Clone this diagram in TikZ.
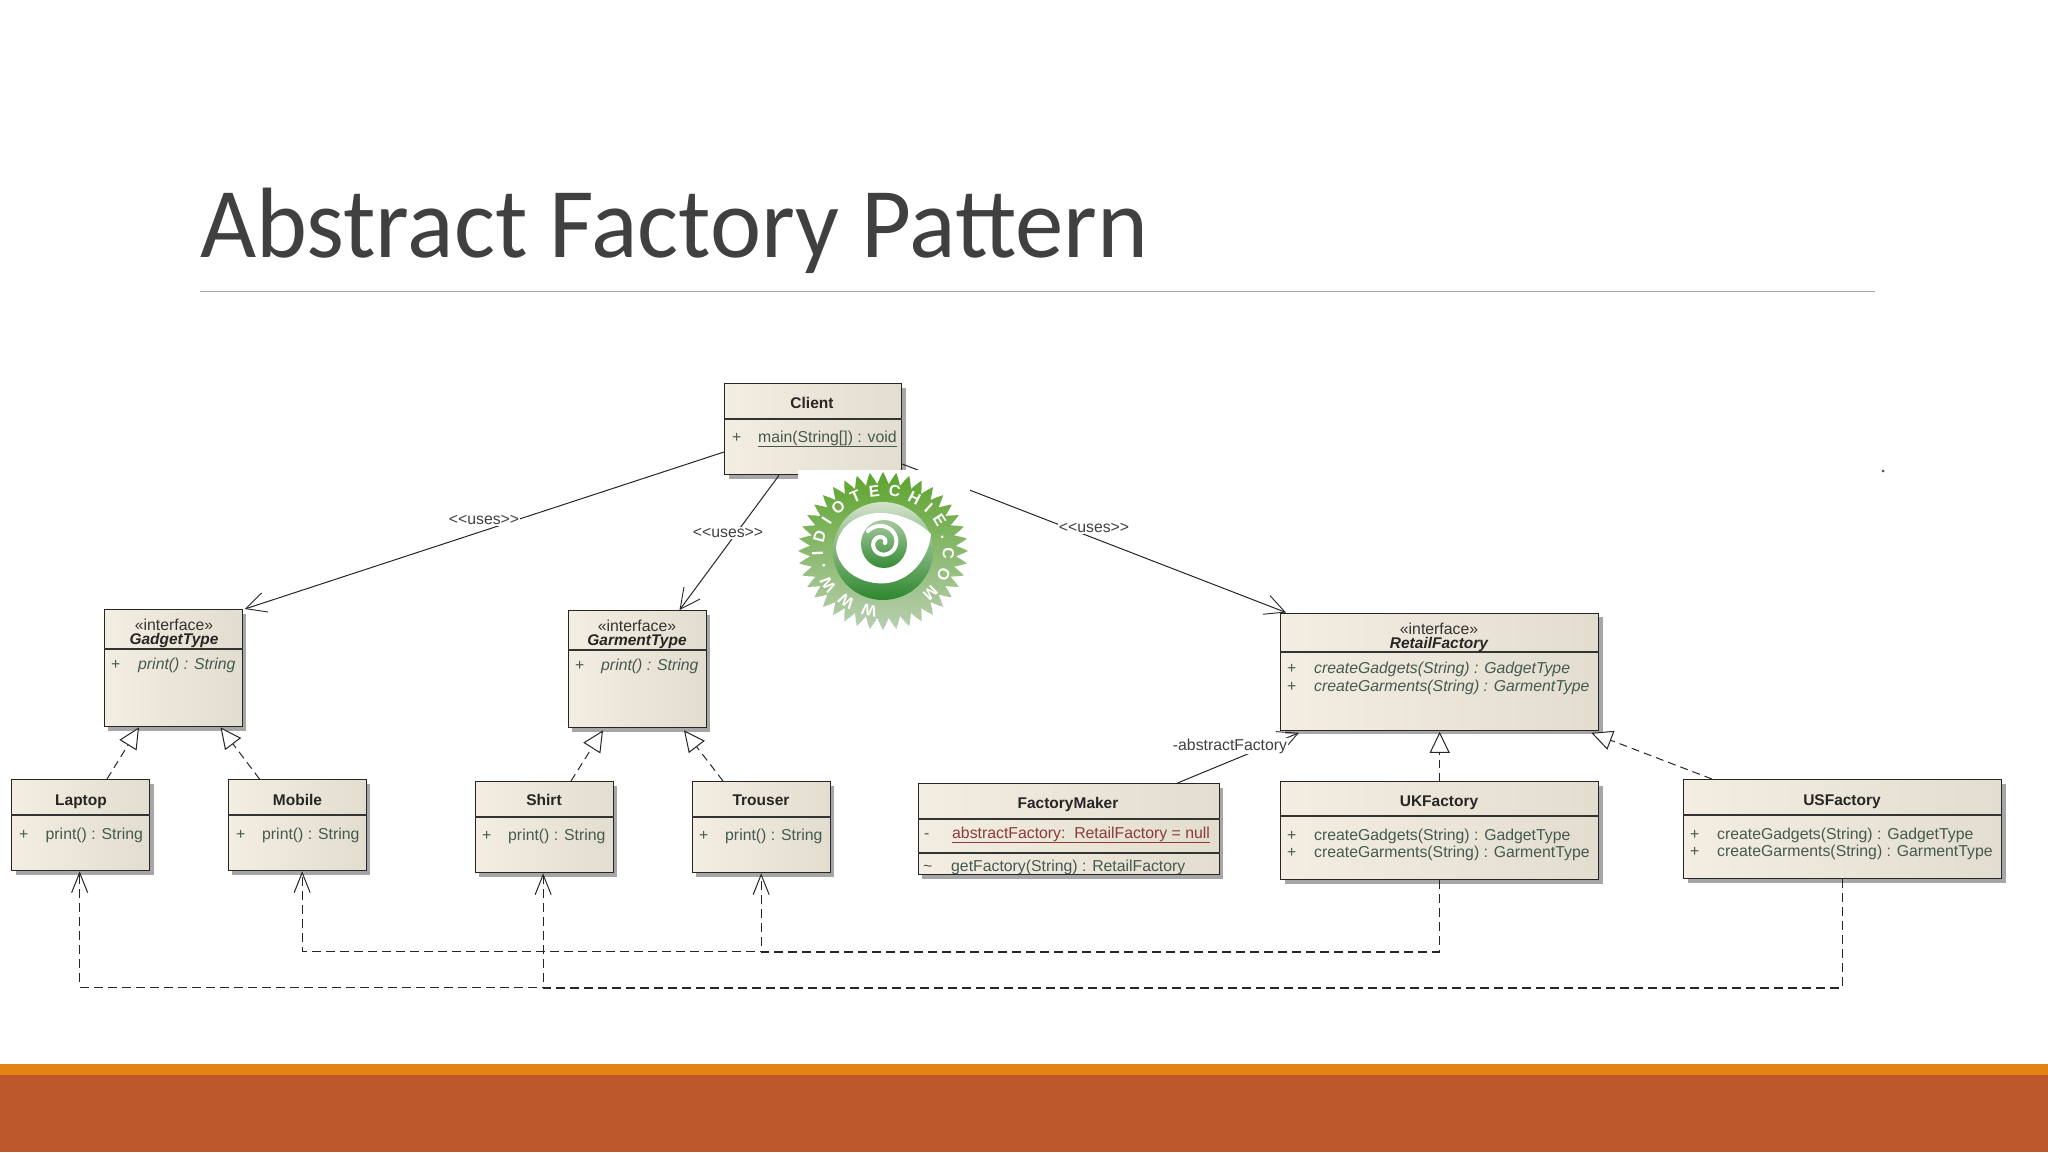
\documentclass[tikz,border=0pt]{standalone}
\usepackage{fontspec}
\setmainfont{Liberation Sans}
\newfontfamily\titlefont{Carlito}
\usetikzlibrary{arrows.meta,shadows,decorations.text}
\definecolor{boxa}{HTML}{F4EEE2}
\definecolor{boxb}{HTML}{E2DDCF}
\definecolor{methodc}{HTML}{44594F}
\definecolor{redc}{HTML}{8A3B3B}
\definecolor{titlec}{HTML}{404040}
\definecolor{rust}{HTML}{BD582C}
\definecolor{amber}{HTML}{E48312}
\definecolor{sealtop}{HTML}{5CA42C}
\definecolor{sealbot}{HTML}{B9CFB2}
\definecolor{disctop}{HTML}{D3E2CB}
\definecolor{discbot}{HTML}{2C872C}
\definecolor{swirltop}{HTML}{A9C9A1}
\definecolor{swirlbot}{HTML}{348C34}
\tikzset{
  umlbox/.style={draw=black!85,line width=1.3pt,rectangle,inner sep=0pt,anchor=north west,
    left color=boxa,right color=boxb,
    drop shadow={shadow xshift=4pt,shadow yshift=-4pt,fill=black!35,opacity=1}},
  sepline/.style={draw=black!80,line width=1.1pt},
  txt/.style={font=\fontsize{15.8}{15.8}\selectfont,inner sep=0pt,text=methodc},
  mem/.style={txt,anchor=base west},
  imem/.style={mem,font=\fontsize{15.8}{15.8}\selectfont\itshape},
  cname/.style={txt,anchor=base,font=\fontsize{15.5}{15.5}\selectfont\bfseries,text=black!85},
  iname/.style={cname,font=\fontsize{15.5}{15.5}\selectfont\bfseries\itshape},
  ster/.style={txt,anchor=base,text=black!80},
  lab/.style={txt,fill=white,inner sep=1pt,text=black!75},
  assoc/.style={draw=black!85,line width=1pt,-{Straight Barb[length=20pt,width=20pt,line width=.9pt]}},
  realize/.style={draw=black!85,line width=1pt,dash pattern=on 8pt off 5pt,
    -{Triangle[open,fill=white,length=21pt,width=20pt,line width=1pt]}},
  dep/.style={draw=black!85,line width=1.2pt,dash pattern=on 9pt off 5pt,
    -{Straight Barb[length=20pt,width=16pt,line width=1pt]}},
}
\begin{document}
\begin{tikzpicture}[x=1pt,y=-1pt]
\useasboundingbox (0,0) rectangle (2048,1152);
\fill[white] (0,0) rectangle (2048,1152);
% title
\node[anchor=base west,inner sep=0pt,text=titlec,xscale=.969,font=\titlefont\fontsize{100}{100}\selectfont] (title) at (200,257) {Abstract Factory Pattern};
\coordinate (ruleL) at (200,291.5);
\coordinate (ruleR) at (1875,291.5);
\draw[draw=black!35,line width=1.5pt] (ruleL) -- (ruleR);
% bottom bands
\fill[amber] (0,1064) rectangle (2048,1075);
\fill[rust] (0,1075) rectangle (2048,1152);

% boxes
\node[umlbox,minimum width=177pt,minimum height=91pt] (client) at (724,383) {};
\node[umlbox,minimum width=138pt,minimum height=117pt] (gadget) at (103.5,609) {};
\node[umlbox,minimum width=138pt,minimum height=117pt] (garment) at (567.5,610) {};
\node[umlbox,minimum width=318pt,minimum height=117pt] (retail) at (1280,612.5) {};
\node[umlbox,minimum width=138pt,minimum height=91pt] (laptop) at (11,779) {};
\node[umlbox,minimum width=138pt,minimum height=91pt] (mobile) at (227.5,779) {};
\node[umlbox,minimum width=138pt,minimum height=91pt] (shirt) at (474.5,781) {};
\node[umlbox,minimum width=138pt,minimum height=91pt] (trouser) at (691.5,781) {};
\node[umlbox,minimum width=301pt,minimum height=91pt] (maker) at (917.5,783) {};
\node[umlbox,minimum width=318pt,minimum height=98pt] (uk) at (1280,781) {};
\node[umlbox,minimum width=318pt,minimum height=99pt] (us) at (1683,779) {};
% compartments
\foreach \b/\o in {client/36,gadget/40,garment/40,retail/39.5,laptop/36,mobile/36,shirt/36,trouser/36,maker/36,uk/35,us/36}
  \draw[sepline] ([yshift=-\o pt]\b.north west) -- ([yshift=-\o pt]\b.north east);
\draw[sepline] ([yshift=-70pt]maker.north west) -- ([yshift=-70pt]maker.north east);

% connectors
\draw[assoc] ([yshift=-69pt]client.north west) -- ([xshift=2pt]gadget.north east);
\draw[assoc] ([xshift=55pt]client.south west) -- ([xshift=112pt]garment.north west);
\draw[assoc] ([yshift=-81pt]client.north east) -- ([xshift=6pt]retail.north west);
\draw[assoc] ([xshift=260pt]maker.north west) -- ([xshift=19pt,yshift=-2pt]retail.south west);
\draw[realize] ([xshift=96pt]laptop.north west) -- ([xshift=35.5pt]gadget.south west);
\draw[realize] ([xshift=32pt]mobile.north west) -- ([xshift=117pt]gadget.south west);
\draw[realize] ([xshift=96.5pt]shirt.north west) -- ([xshift=35.5pt,yshift=-2pt]garment.south west);
\draw[realize] ([xshift=31.5pt]trouser.north west) -- ([xshift=116.5pt,yshift=-2pt]garment.south west);
\draw[realize] (uk.north) -- ([yshift=-1pt]retail.south);
\draw[realize] ([xshift=29pt]us.north west) -- ([xshift=-8pt,yshift=-2pt]retail.south east);
\draw[dep] (uk.south) -- ++(0,71) -| ([xshift=5pt]mobile.south);
\draw[dep] (uk.south) -- ++(0,71.8) -| (trouser.south);
\draw[dep] (us.south) -- ++(0,108) -| ([xshift=-1pt]laptop.south);
\draw[dep] (us.south) -- ++(0,108.8) -| ([xshift=-1pt]shirt.south);

% connector labels
\node[lab] (uses1) at (484,520) {<{}<uses>{}>};
\node[lab] (uses2) at (728,533) {<{}<uses>{}>};
\node[lab] (uses3) at (1094,528) {<{}<uses>{}>};
\node[lab] (absf) at (1230,746) {-abstractFactory};

% class texts
\node[cname] (t1) at (812,408) {Client};
\node[mem] (t2) at (732,442) {+};
\node[mem] (t3) at (758,442) {\underline{main(String[]) : void}};

\node[ster] (t4) at (174,630) {«interface»};
\node[iname] (t5) at (174,644.5) {GadgetType};
\node[mem] (t6) at (111,669) {+};
\node[imem] (t7) at (138,669) {print() : String};

\node[ster] (t8) at (637,631) {«interface»};
\node[iname] (t9) at (637,645.5) {GarmentType};
\node[mem] (t10) at (575,670) {+};
\node[imem] (t11) at (601,670) {print() : String};

\node[ster] (t12) at (1439,634) {«interface»};
\node[iname] (t13) at (1439,648.5) {RetailFactory};
\node[mem] (t14) at (1287,673) {+};
\node[imem] (t15) at (1314,673) {createGadgets(String) : GadgetType};
\node[mem] (t16) at (1287,691) {+};
\node[imem] (t17) at (1314,691) {createGarments(String) : GarmentType};

\node[cname] (t18) at (81,805) {Laptop};
\node[mem] (t19) at (19,839) {+};
\node[mem] (t20) at (45.5,839) {print() : String};
\node[cname] (t21) at (297.5,805) {Mobile};
\node[mem] (t22) at (236,839) {+};
\node[mem] (t23) at (262,839) {print() : String};
\node[cname] (t24) at (544,805) {Shirt};
\node[mem] (t25) at (482,840) {+};
\node[mem] (t26) at (508,840) {print() : String};
\node[cname] (t27) at (761,805) {Trouser};
\node[mem] (t28) at (699,840) {+};
\node[mem] (t29) at (725,840) {print() : String};

\node[cname] (t30) at (1068,808) {FactoryMaker};
\node[mem] (t31) at (924,838) {-};
\node[mem,text=redc] (t32) at (952,838) {\underline{abstractFactory:\ \ RetailFactory = null}};
\node[mem] (t33) at (923,871) {\char"7E};
\node[mem] (t34) at (951,871) {getFactory(String) : RetailFactory};

\node[cname] (t35) at (1439,806) {UKFactory};
\node[mem] (t36) at (1287,840) {+};
\node[mem] (t37) at (1314,840) {createGadgets(String) : GadgetType};
\node[mem] (t38) at (1287,857) {+};
\node[mem] (t39) at (1314,857) {createGarments(String) : GarmentType};

\node[cname] (t40) at (1842,805) {USFactory};
\node[mem] (t41) at (1690,839) {+};
\node[mem] (t42) at (1717,839) {createGadgets(String) : GadgetType};
\node[mem] (t43) at (1690,856) {+};
\node[mem] (t44) at (1717,856) {createGarments(String) : GarmentType};

% logo image patch
\fill[white] (798,470) rectangle (970,636);
% seal
\begin{scope}[shift={(883,551)},y=1pt]
  \shade[top color=sealtop,bottom color=sealbot]
    plot[samples=161,domain=0:360,variable=\t]
    ({cos(\t)*(79+6*asin(cos(40*\t))/90)},{sin(\t)*(73+6*asin(cos(40*\t))/90)}) -- cycle;
  \path[decorate,decoration={text along path,text color=white,text align=fit to path,
    text={|\bfseries\fontsize{16}{16}\selectfont|WWW.IDIOTECHIE.COM}}]
    (-95:60 and 55) arc[start angle=-95,delta angle=-315,x radius=60,y radius=55];
  \shade[top color=disctop,bottom color=discbot] (0,0) ellipse (50 and 49);
  \fill[white] (-47,3) .. controls (-45,25) and (-25,38) .. (-3,38)
     .. controls (15,38) and (35,30) .. (48,17)
     .. controls (46,-5) and (30,-28) .. (5,-32)
     .. controls (-20,-35) and (-45,-20) .. (-47,3) -- cycle;
  \shade[top color=swirltop,bottom color=swirlbot] (1,7) ellipse (23 and 24);
  \draw[white,line width=4pt,line cap=round]
    plot[samples=60,domain=0:500,variable=\t]
    ({-1+(3+\t/32)*cos(\t)},{8+(3+\t/32)*sin(\t)});
\end{scope}
% stray dot
\fill[black!70] (1883,471) circle (1.5);
\end{tikzpicture}
\end{document}
